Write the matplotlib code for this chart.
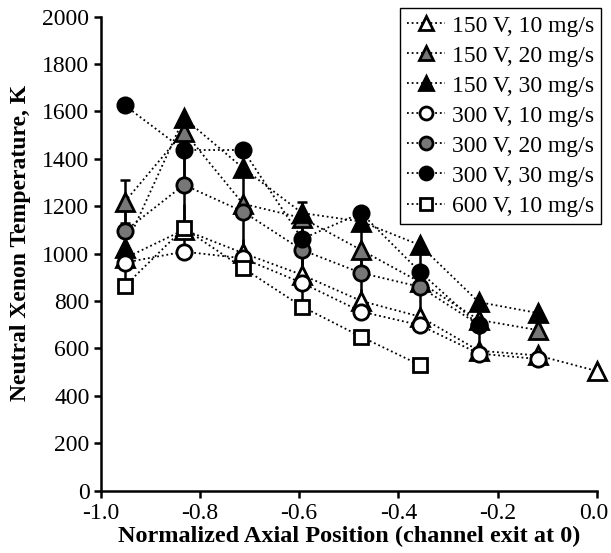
import numpy as np
import matplotlib
matplotlib.use('Agg')
import matplotlib.pyplot as plt
from matplotlib.transforms import ScaledTranslation

# axial stations (normalized, channel exit at 0)
posicion = [-0.951, -0.832, -0.713, -0.594, -0.475, -0.357, -0.238, -0.119, 0.0]

# neutral xenon temperature, K
t_150_10 = [980, 1100, 1002, 910, 800, 734, 590, 570, 504]
t_150_20 = [1219, 1515, 1210, 1150, 1015, 880, 720, 677]
t_150_30 = [1024, 1572, 1361, 1171, 1135, 1036, 795, 749]
t_300_10 = [962, 1008, 980, 876, 755, 698, 578, 555]
t_300_20 = [1095, 1290, 1177, 1015, 918, 860, 700]
t_300_30 = [1625, 1437, 1437, 1062, 1171, 924, 698]
t_600_10 = [863, 1107, 939, 776, 649, 530]

# uncertainty bars (0 = no bar)
e_150_10 = [0, 0, 60, 60, 50, 40, 0, 0, 0]
e_150_20 = [92, 0, 0, 0, 110, 0, 0, 0]
e_150_30 = [0, 0, 0, 48, 0, 0, 0, 0]
e_300_10 = [100, 0, 0, 100, 0, 0, 0, 0]
e_300_20 = [100, 180, 200, 130, 120, 140, 0]
e_300_30 = [0, 150, 0, 120, 0, 0, 110]
e_600_10 = [0, 100, 0, 0, 0, 0]

etiquetas = ['150 V, 10 mg/s', '150 V, 20 mg/s', '150 V, 30 mg/s',
             '300 V, 10 mg/s', '300 V, 20 mg/s', '300 V, 30 mg/s',
             '600 V, 10 mg/s']

ticks_x = [-1.0, -0.8, -0.6, -0.4, -0.2, 0.0]
ticks_x_txt = ['-1.0', '-0.8', '-0.6', '-0.4', '-0.2', '0.0']

plt.rcParams['font.family'] = ['Liberation Serif', 'DejaVu Serif']

fig = plt.figure(figsize=(6.11, 5.53), dpi=100)
ax = fig.add_axes([0.1645, 0.113, 0.8125, 0.857])

# (valores, errores, marcador, relleno, tamaño, tapa)
series = [
    (t_150_10, e_150_10, '^', 'white', 12.5, 0),
    (t_150_20, e_150_20, '^', '#777777', 12.5, 3.5),
    (t_150_30, e_150_30, '^', 'black', 12.5, 3.5),
    (t_300_10, e_300_10, 'o', 'white', 11, 0),
    (t_300_20, e_300_20, 'o', '#777777', 11, 0),
    (t_300_30, e_300_30, 'o', 'black', 11, 0),
    (t_600_10, e_600_10, 's', 'white', 10.5, 0),
]

punteado = (0, (1, 1.6))
for i, (valores, errores, marca, relleno, ms, tapa) in enumerate(series):
    x = np.array(posicion[:len(valores)])
    y = np.array(valores, dtype=float)
    err = np.array(errores, dtype=float)
    con_barra = err > 0
    if con_barra.any():
        ax.errorbar(x[con_barra], y[con_barra], yerr=err[con_barra],
                    fmt='none', ecolor='black', elinewidth=1.8, capsize=tapa,
                    capthick=1.8, zorder=2 + i * 0.1)
    ax.plot(x, y, linestyle=punteado, color='black', linewidth=1.3,
            marker=marca, markersize=ms, markerfacecolor=relleno,
            markeredgecolor='black', markeredgewidth=2.0,
            label=etiquetas[i], zorder=3 + i * 0.1, clip_on=False)

ax.set_xlim(-1.0, 0.0)
ax.set_ylim(0, 2000)
ax.set_xticks(ticks_x)
ax.set_xticklabels(ticks_x_txt)
ax.set_yticks(np.arange(0, 2001, 200))

for lado in ['top', 'right']:
    ax.spines[lado].set_visible(False)
for lado in ['left', 'bottom']:
    ax.spines[lado].set_linewidth(1.8)
ax.tick_params(direction='out', length=5, width=1.8, labelsize=17)
ax.tick_params(axis='x', pad=4)
ax.tick_params(axis='y', pad=3)

# la última etiqueta del eje x queda alineada a la derecha, dentro de la figura
ultimo = ax.xaxis.get_major_ticks()[-1].label1
ultimo.set_horizontalalignment('right')
ultimo.set_transform(ultimo.get_transform()
                     + ScaledTranslation(11 / 100, 0, fig.dpi_scale_trans))

ax.set_xlabel('Normalized Axial Position (channel exit at 0)',
              fontsize=17.5, fontweight='bold', labelpad=1)
ax.set_ylabel('Neutral Xenon Temperature, K',
              fontsize=17, fontweight='bold')
ax.yaxis.set_label_coords(-0.14, 0.523)

leg = ax.legend(loc='upper right', bbox_to_anchor=(601 / 611, 1 - 8 / 553),
                bbox_transform=fig.transFigure, fontsize=17, frameon=True,
                fancybox=False, edgecolor='black', framealpha=1,
                handlelength=1.6, handletextpad=0.3, labelspacing=0.36,
                borderpad=0.3, borderaxespad=0, markerscale=0.85)
leg.get_frame().set_linewidth(1.0)

plt.savefig('out.png', dpi=100)
